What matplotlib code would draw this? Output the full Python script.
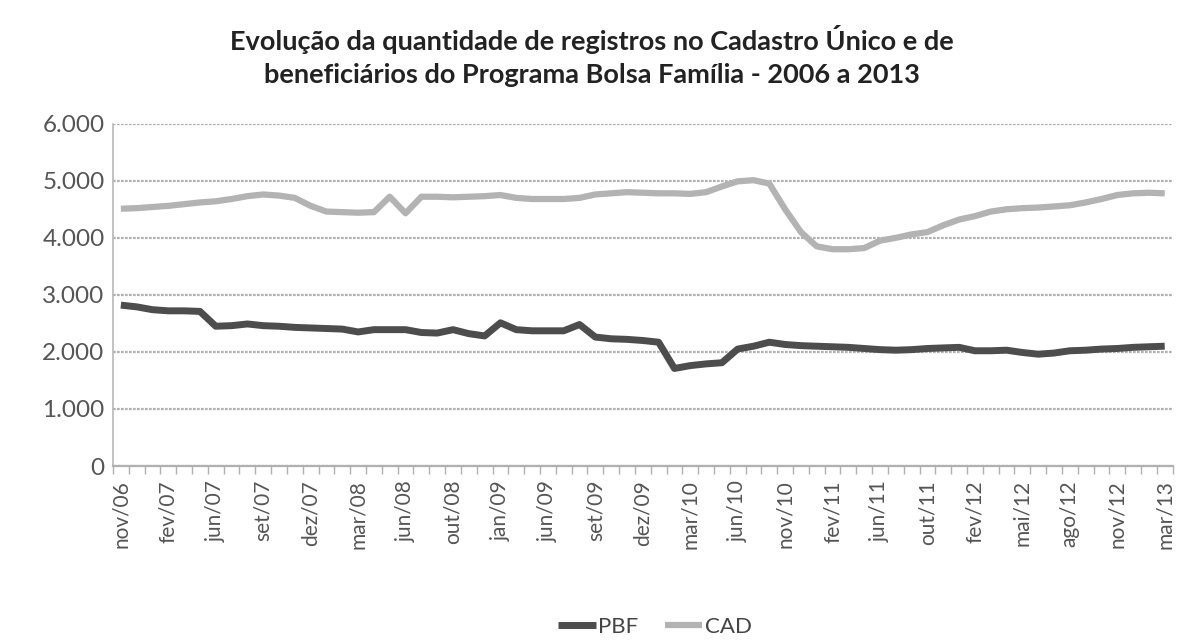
import matplotlib
matplotlib.use("Agg")
import matplotlib.pyplot as plt
import numpy as np

# ---- data -------------------------------------------------------------
categories = [
    "nov/06", "dez/06", "jan/07", "fev/07", "mar/07", "abr/07", "jun/07",
    "jul/07", "ago/07", "set/07", "out/07", "nov/07", "dez/07",
    "jan/08", "fev/08", "mar/08", "abr/08", "mai/08", "jun/08",
    "jul/08", "ago/08", "out/08", "nov/08", "dez/08", "jan/09",
    "mar/09", "abr/09", "jun/09", "jul/09", "ago/09", "set/09",
    "out/09", "nov/09", "dez/09", "jan/10", "fev/10", "mar/10",
    "abr/10", "mai/10", "jun/10", "ago/10", "out/10", "nov/10",
    "dez/10", "jan/11", "fev/11", "mar/11", "abr/11", "jun/11",
    "jul/11", "ago/11", "out/11", "nov/11", "dez/11", "fev/12",
    "mar/12", "abr/12", "mai/12", "jun/12", "jul/12", "ago/12",
    "set/12", "out/12", "nov/12", "dez/12", "jan/13", "mar/13",
]

pbf = [
    2820, 2790, 2740, 2720, 2720, 2710, 2450,
    2460, 2490, 2460, 2450, 2430, 2420,
    2410, 2400, 2350, 2390, 2390, 2390,
    2340, 2330, 2390, 2320, 2280, 2510,
    2390, 2370, 2370, 2370, 2480, 2260,
    2230, 2220, 2200, 2170, 1710, 1760,
    1790, 1810, 2050, 2100, 2170, 2130,
    2110, 2100, 2090, 2080, 2060, 2040,
    2030, 2040, 2060, 2070, 2080, 2020,
    2020, 2030, 1990, 1960, 1980, 2020,
    2030, 2050, 2060, 2080, 2090, 2100,
]

cad = [
    4510, 4520, 4540, 4560, 4590, 4620, 4640,
    4680, 4730, 4760, 4740, 4700, 4560,
    4460, 4450, 4440, 4450, 4720, 4430,
    4720, 4720, 4710, 4720, 4730, 4750,
    4700, 4680, 4680, 4680, 4700, 4760,
    4780, 4800, 4790, 4780, 4780, 4770,
    4800, 4900, 4990, 5010, 4950, 4500,
    4100, 3850, 3800, 3800, 3820, 3950,
    4000, 4060, 4100, 4220, 4320, 4380,
    4460, 4500, 4520, 4530, 4550, 4570,
    4620, 4680, 4750, 4780, 4790, 4780,
]

series_names = ["PBF", "CAD"]
y_ticks = [0, 1000, 2000, 3000, 4000, 5000, 6000]
y_tick_labels = ["0", "1.000", "2.000", "3.000", "4.000", "5.000", "6.000"]
title = ("Evolução da quantidade de registros no Cadastro Único e de\n"
         "beneficiários do Programa Bolsa Família - 2006 a 2013")

# ---- figure -----------------------------------------------------------
plt.rcParams["font.family"] = ["Lato", "DejaVu Sans"]

fig = plt.figure(figsize=(11.84, 6.41), dpi=100)
ax = fig.add_axes([0.0954, 0.273, 0.895, 0.534])

x = np.arange(len(categories))
ax.plot(x, pbf, color="#4d4d4d", lw=5.0, solid_joinstyle="round",
        solid_capstyle="butt", label=series_names[0], zorder=3)
ax.plot(x, cad, color="#b3b3b3", lw=4.5, solid_joinstyle="round",
        solid_capstyle="butt", label=series_names[1], zorder=3)

ax.set_xlim(-0.5, len(categories) - 0.5)
ax.set_ylim(0, 6000)

# y axis
ax.set_yticks(y_ticks)
ax.set_yticklabels(y_tick_labels, fontsize=17.5, color="#555555")
ax.tick_params(axis="y", length=0, pad=6)
ax.grid(axis="y", color="#b0b0b0", lw=1.6, ls=(0, (1.2, 0.6)), zorder=1)

# x axis: labels every 3rd category, tick marks at category boundaries
label_pos = x[::3]
ax.set_xticks(label_pos)
ax.set_xticklabels([categories[i] for i in label_pos], rotation=90,
                   fontsize=15, color="#555555")
ax.tick_params(axis="x", which="major", length=0, pad=10)
ax.set_xticks(np.arange(-0.5, len(categories), 1.0), minor=True)
ax.tick_params(axis="x", which="minor", length=6, width=1.0,
               color="#b0b0b0", direction="out")

for s in ["top", "right"]:
    ax.spines[s].set_visible(False)
ax.spines["left"].set_color("#b8b8b8")
ax.spines["left"].set_linewidth(1.2)
ax.spines["bottom"].set_color("#b0b0b0")
ax.spines["bottom"].set_linewidth(1.6)

fig.text(0.5, 0.912, title, ha="center", va="center", fontsize=19.5,
         fontweight="bold", color="#222222", linespacing=1.45)

leg = fig.legend(loc="center", bbox_to_anchor=(0.553, 0.022), ncol=2,
                 frameon=False, fontsize=16, handlelength=1.7,
                 columnspacing=1.2, handletextpad=0.1)
for t in leg.get_texts():
    t.set_color("#444444")

fig.savefig("out.png", dpi=100, facecolor="white")
